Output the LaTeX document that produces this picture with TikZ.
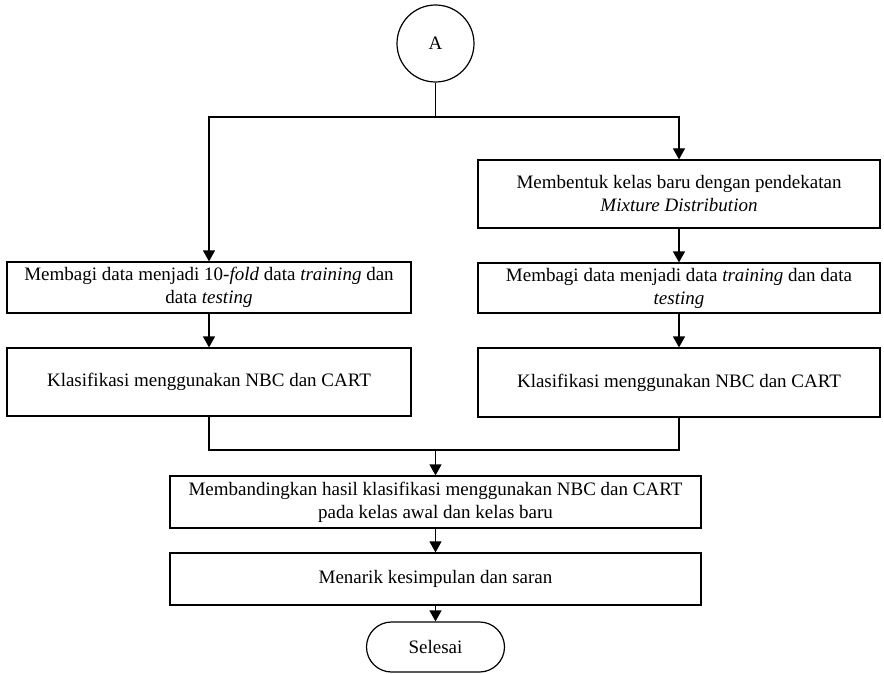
\documentclass[tikz,border=0pt]{standalone}
\usepackage{fontspec}
\setmainfont{Liberation Serif}
\usetikzlibrary{arrows.meta,shapes.misc}
\begin{document}
\begin{tikzpicture}[x=1pt,y=-1pt,
  every node/.style={font=\fontsize{19}{23}\selectfont, align=center, inner sep=0pt},
  box/.style={draw, line width=1.2pt, rectangle},
  line/.style={line width=1.2pt},
  arr/.style={line width=1.2pt, -{Triangle[width=12pt,length=11pt]}}]
\useasboundingbox (0,0) rectangle (884,674);
\node[draw, line width=1.2pt, circle, minimum size=77pt] (A) at (435.5,43.5) {A};
\node[box, minimum width=404pt, minimum height=51pt] (L1) at (209,287.5)
  {Membagi data menjadi 10-\textit{fold} data \textit{training} dan\\ data \textit{testing}};
\node[box, minimum width=404pt, minimum height=68pt] (L2) at (209,382)
  {Klasifikasi menggunakan NBC dan CART};
\node[box, minimum width=402pt, minimum height=68pt] (R1) at (679,194)
  {Membentuk kelas baru dengan pendekatan\\ \textit{Mixture Distribution}};
\node[box, minimum width=402pt, minimum height=50pt] (R2) at (679,288)
  {Membagi data menjadi data \textit{training} dan data\\ \textit{testing}};
\node[box, minimum width=402pt, minimum height=69pt] (R3) at (679,382.5)
  {Klasifikasi menggunakan NBC dan CART};
\node[box, minimum width=531pt, minimum height=52pt] (C1) at (435.5,502)
  {Membandingkan hasil klasifikasi menggunakan NBC dan CART\\ pada kelas awal dan kelas baru};
\node[box, minimum width=531pt, minimum height=52pt] (C2) at (435.5,579)
  {Menarik kesimpulan dan saran};
\node[draw, line width=1.2pt, rounded rectangle, minimum width=138pt, minimum height=50pt] (S) at (435.5,647)
  {Selesai};
\coordinate (j1) at (435.5,117);
\coordinate (m) at (435.5,450);
\draw[line] (A.south) -- (j1);
\draw[arr] (j1) -| (L1.north);
\draw[arr] (j1) -| (R1.north);
\draw[arr] (L1.south) -- (L2.north);
\draw[arr] (R1.south) -- (R2.north);
\draw[arr] (R2.south) -- (R3.north);
\draw[line] (L2.south) |- (m);
\draw[line] (R3.south) |- (m);
\draw[arr] (m) -- (C1.north);
\draw[arr] (C1.south) -- (C2.north);
\draw[arr] (C2.south) -- (S.north);
\end{tikzpicture}
\end{document}
